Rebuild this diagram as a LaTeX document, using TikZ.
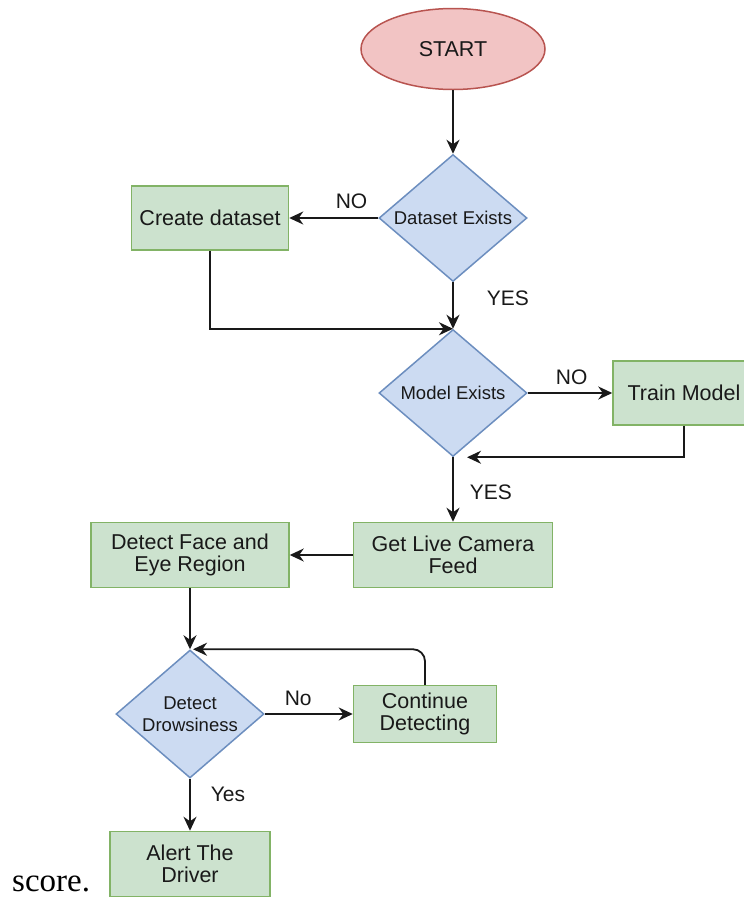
\documentclass[tikz,border=0pt]{standalone}
\usepackage{fontspec}
\setmainfont{Liberation Serif}
\setsansfont{Liberation Sans}
\usetikzlibrary{arrows.meta,shapes.geometric}
\tikzset{>={Stealth[length=14pt,width=13pt,inset=4.5pt]}}

\definecolor{startfill}{RGB}{242,196,196}
\definecolor{startline}{RGB}{184,84,80}
\definecolor{askfill}{RGB}{204,219,242}
\definecolor{askline}{RGB}{108,142,191}
\definecolor{stepfill}{RGB}{204,226,206}
\definecolor{stepline}{RGB}{130,179,102}
\definecolor{ink}{RGB}{25,25,25}

\begin{document}
\begin{tikzpicture}[x=1pt, y=1pt,
  boxtext/.style={font=\sffamily\fontsize{21.5}{22.5}\selectfont, text=ink, align=center},
  stepbox/.style={boxtext, draw=stepline, fill=stepfill, line width=1.5pt, inner sep=0pt},
  ask/.style={diamond, aspect=1.17, draw=askline, fill=askfill, line width=1.5pt,
    inner sep=0pt, minimum width=148pt, minimum height=127pt, text=ink, align=center,
    font=\sffamily\fontsize{18.5}{22}\selectfont},
  lbl/.style={font=\sffamily\fontsize{21}{21}\selectfont, text=ink, inner sep=0pt},
  flow/.style={->, line width=1.8pt, draw=ink}]

  \useasboundingbox (0,0) rectangle (744,-900);
  \clip (0,0) rectangle (744,-900);

  %% top part
  \node[ellipse, draw=startline, fill=startfill, line width=1.5pt, inner sep=0pt,
    minimum width=184pt, minimum height=81pt, boxtext] (start) at (453,-49) {START};
  \node[ask] (dsexists) at (453,-218) {Dataset Exists};
  \node[stepbox, minimum width=157pt, minimum height=64pt] (create) at (210,-218) {Create dataset};

  \node[ask] (mdexists) at (453,-393) {Model Exists};
  \node[stepbox, minimum width=142pt, minimum height=64pt] (train) at (684,-393) {Train Model};

  %% camera and face
  \node[stepbox, minimum width=199pt, minimum height=65pt] (camera) at (453,-555) {Get Live Camera\\Feed};
  \node[stepbox, minimum width=198pt, minimum height=65pt] (face) at (190,-555) {Detect Face and\\Eye Region};

  %% detection loop
  \node[ask, minimum height=128pt] (drowsy) at (190,-714) {Detect\\Drowsiness};
  \node[stepbox, minimum width=143pt, minimum height=57pt] (detecting) at (425,-714) {Continue\\Detecting};
  \node[stepbox, minimum width=160pt, minimum height=65pt] (alert) at (190,-864) {Alert The\\Driver};

  \node[font=\fontsize{33}{33}\selectfont, anchor=base west, inner sep=0pt] (score) at (12,-891) {score.};

  \draw[flow] (start.south) -- (dsexists.north);
  \draw[flow] (dsexists.west) -- node[lbl, above=8pt, pos=0.3]{NO} (create.east);
  \draw[flow] (dsexists.south) -- node[lbl, right=33pt, pos=0.35]{YES} (mdexists.north);
  \draw[flow] (create.south) |- (mdexists.north);

  \draw[flow] (mdexists.east) -- node[lbl, above=7.5pt, pos=0.52]{NO} (train.west);
  \draw[flow] (train.south) |- ([xshift=14pt]mdexists.south);
  \draw[flow] (mdexists.south) -- node[lbl, right=16pt, pos=0.55]{YES} (camera.north);

  \draw[flow] (camera.west) -- (face.east);
  \draw[flow] (face.south) -- (drowsy.north);
  \draw[flow] (drowsy.east) -- node[lbl, above=7.5pt, pos=0.38]{No} (detecting.west);
  \draw[flow, rounded corners=12pt] (detecting.north) |- ([xshift=3pt]drowsy.north);
  \draw[flow] (drowsy.south) -- node[lbl, right=20pt, pos=0.3]{Yes} (alert.north);

\end{tikzpicture}
\end{document}
